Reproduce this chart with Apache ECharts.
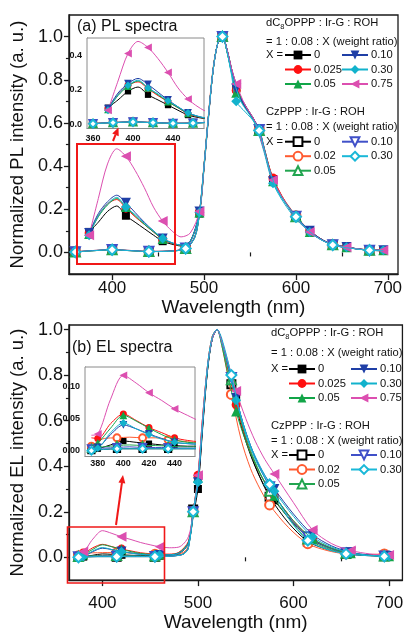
<!DOCTYPE html>
<html><head><meta charset="utf-8">
<script src="https://cdn.jsdelivr.net/npm/echarts@6/dist/echarts.min.js"></script>
<style>html,body{margin:0;padding:0;background:#fff}#c{width:406px;height:633px}</style>
</head><body><div id="c"></div>
<script>
// ---------------- DATA ----------------
const dcLabels = ['0', '0.025', '0.05', '0.10', '0.30', '0.75'];
const czLabels = ['0', '0.02', '0.05', '0.10', '0.30'];

// PL, dC8OPPP host (filled markers)
const plDcX = [375,385,395,405,415,425,435,445,455,465,475,485,495,500,505,510,515,520,525,530,535,545,555,565,575,595,615,635,655,675,695];
const plDc0    = [0.095,0.14,0.19,0.215,0.17,0.14,0.11,0.08,0.052,0.038,0.03,0.05,0.18,0.39,0.63,0.85,0.97,1.0,0.94,0.85,0.76,0.68,0.61,0.49,0.34,0.19,0.10,0.045,0.025,0.013,0.01];
const plDc025  = [0.09,0.17,0.225,0.245,0.205,0.165,0.13,0.095,0.06,0.042,0.032,0.052,0.185,0.40,0.64,0.85,0.97,1.0,0.94,0.84,0.75,0.67,0.61,0.48,0.345,0.19,0.10,0.044,0.024,0.013,0.01];
const plDc05   = [0.085,0.165,0.22,0.25,0.21,0.17,0.13,0.095,0.062,0.043,0.032,0.05,0.185,0.40,0.64,0.85,0.97,1.0,0.93,0.83,0.74,0.67,0.60,0.48,0.33,0.19,0.095,0.043,0.024,0.012,0.01];
const plDc10   = [0.09,0.18,0.235,0.265,0.23,0.185,0.14,0.10,0.065,0.045,0.034,0.052,0.19,0.40,0.64,0.85,0.97,1.0,0.94,0.84,0.76,0.67,0.61,0.48,0.33,0.19,0.10,0.045,0.025,0.013,0.01];
const plDc30   = [0.08,0.17,0.225,0.255,0.21,0.175,0.135,0.10,0.065,0.045,0.034,0.05,0.185,0.40,0.64,0.85,0.97,1.0,0.93,0.82,0.70,0.65,0.60,0.47,0.32,0.18,0.095,0.043,0.024,0.012,0.01];
const plDc75   = [0.08,0.25,0.41,0.48,0.445,0.38,0.30,0.21,0.145,0.10,0.072,0.09,0.19,0.40,0.64,0.85,0.97,1.0,0.94,0.85,0.78,0.68,0.61,0.48,0.335,0.19,0.095,0.043,0.024,0.013,0.01];

// PL, CzPPP host (open markers)
const plCzX = [360,380,400,420,440,460,480,490,495,500,505,510,515,520,525,530,540,550,560,570,580,600,620,640,660,680,695];
const plCz0  = [0.003,0.008,0.012,0.008,0.004,0.006,0.018,0.07,0.18,0.40,0.64,0.85,0.97,1.0,0.93,0.84,0.71,0.64,0.567,0.40,0.29,0.167,0.08,0.035,0.02,0.01,0.008];
const plCz02 = [0.003,0.009,0.013,0.009,0.005,0.006,0.019,0.075,0.185,0.41,0.65,0.86,0.97,1.0,0.94,0.85,0.72,0.645,0.57,0.41,0.295,0.17,0.082,0.036,0.02,0.01,0.008];
const plCz05 = [0.002,0.008,0.012,0.008,0.004,0.005,0.018,0.072,0.18,0.40,0.64,0.85,0.97,1.0,0.93,0.84,0.71,0.64,0.565,0.40,0.29,0.165,0.08,0.035,0.02,0.01,0.008];
const plCz10 = [0.003,0.009,0.013,0.009,0.005,0.006,0.02,0.075,0.185,0.40,0.64,0.85,0.97,1.0,0.94,0.85,0.72,0.645,0.57,0.405,0.29,0.168,0.08,0.036,0.02,0.01,0.008];
const plCz30 = [0.002,0.008,0.012,0.008,0.004,0.005,0.018,0.07,0.18,0.40,0.64,0.85,0.97,1.0,0.93,0.83,0.70,0.635,0.565,0.40,0.285,0.165,0.078,0.034,0.019,0.01,0.008];

// EL, dC8OPPP host (filled markers)
const elDcX = [375,380,390,400,410,420,430,440,450,460,470,480,490,495,500,505,510,515,520,525,530,540,550,560,570,580,600,620,640,660,680,700];
const elDc0   = [0.002,0.003,0.009,0.015,0.013,0.011,0.009,0.008,0.007,0.007,0.008,0.015,0.06,0.18,0.30,0.57,0.82,0.96,1.0,0.95,0.87,0.70,0.52,0.40,0.31,0.25,0.15,0.075,0.038,0.016,0.008,0.005];
const elDc025 = [0.02,0.019,0.042,0.057,0.047,0.036,0.028,0.02,0.016,0.014,0.014,0.022,0.07,0.2,0.36,0.62,0.84,0.97,1.0,0.94,0.85,0.67,0.52,0.41,0.33,0.27,0.16,0.08,0.04,0.018,0.01,0.006];
const elDc05  = [0.008,0.012,0.035,0.055,0.046,0.035,0.025,0.017,0.013,0.012,0.012,0.02,0.065,0.19,0.35,0.6,0.83,0.96,1.0,0.93,0.83,0.64,0.51,0.41,0.33,0.27,0.16,0.082,0.04,0.018,0.009,0.005];
const elDc10  = [0.004,0.005,0.025,0.04,0.034,0.026,0.019,0.013,0.011,0.01,0.011,0.018,0.062,0.19,0.33,0.59,0.83,0.96,1.0,0.95,0.87,0.70,0.55,0.44,0.36,0.30,0.19,0.10,0.05,0.022,0.01,0.006];
const elDc30  = [0.003,0.004,0.028,0.043,0.034,0.025,0.018,0.013,0.011,0.01,0.011,0.018,0.06,0.19,0.33,0.6,0.83,0.96,1.0,0.94,0.86,0.69,0.54,0.43,0.35,0.29,0.18,0.09,0.045,0.02,0.009,0.005];
const elDc75  = [0.024,0.026,0.08,0.117,0.105,0.09,0.078,0.065,0.055,0.046,0.042,0.045,0.09,0.2,0.36,0.62,0.84,0.96,1.0,0.95,0.88,0.73,0.61,0.51,0.43,0.366,0.24,0.12,0.06,0.03,0.015,0.01];

// EL, CzPPP host (open markers)
const elCzX = [375,385,395,405,415,425,435,445,455,465,475,485,490,495,500,505,510,515,520,525,535,545,555,565,575,595,615,635,655,675,695];
const elCz0  = [0.001,0.002,0.003,0.003,0.003,0.003,0.003,0.003,0.003,0.004,0.006,0.015,0.04,0.21,0.31,0.58,0.82,0.96,1.0,0.95,0.76,0.58,0.45,0.35,0.266,0.15,0.07,0.035,0.015,0.008,0.005];
const elCz02 = [0.007,0.019,0.02,0.021,0.02,0.02,0.017,0.015,0.013,0.012,0.013,0.022,0.05,0.2,0.35,0.62,0.84,0.97,1.0,0.93,0.715,0.52,0.39,0.30,0.23,0.13,0.06,0.03,0.015,0.012,0.015];
const elCz05 = [0.004,0.006,0.008,0.009,0.008,0.008,0.007,0.006,0.006,0.006,0.008,0.016,0.045,0.2,0.34,0.6,0.83,0.96,1.0,0.95,0.78,0.6,0.47,0.37,0.29,0.17,0.08,0.04,0.018,0.01,0.006];
const elCz10 = [0.003,0.004,0.005,0.006,0.005,0.005,0.005,0.004,0.004,0.005,0.007,0.015,0.044,0.2,0.33,0.59,0.83,0.96,1.0,0.95,0.79,0.62,0.49,0.39,0.31,0.18,0.09,0.045,0.02,0.01,0.006];
const elCz30 = [0.0,0.002,0.003,0.003,0.003,0.003,0.003,0.003,0.003,0.004,0.006,0.014,0.04,0.2,0.34,0.6,0.84,0.97,1.0,0.96,0.80,0.62,0.49,0.40,0.32,0.17,0.074,0.035,0.015,0.008,0.004];

// wavelengths carrying a marker
const plDcMarks = [375,415,455,495,535,575,615,655,695], plDcMarksInset = [375,395,415,435,455];
const plCzMarks = [360,400,440,480,520,560,600,640,680], plCzMarksInset = [360,380,400,420,440,460];
const elDcMarks = [380,420,460,500,540,580,620,660,700], elDcMarksInset = [380,400,420,440];
const elCzMarks = [375,415,455,495,535,575,615,655,695], elCzMarksInset = [375,395,415,435];

// axis ticks
const mainXMajor = [400,500,600,700], mainXMinor = [450,550,650];
const mainYMajor = [0,0.2,0.4,0.6,0.8,1.0], mainYMinor = [0.1,0.3,0.5,0.7,0.9];
const insetAX = [360,400,440], insetAY = [0,0.2,0.4];
const insetBX = [380,400,420,440], insetBY = [0,0.05,0.10];

// ---------------- STYLES ----------------
const FONT = "'Liberation Sans', Arial, sans-serif";
const LF = 11.2;
const dcStyle = [
  {c:'#000000', s:'rect', r:0, z:9},
  {c:'#ff1010', s:'circle', r:0, z:10},
  {c:'#12a548', s:'triangle', r:0, z:11},
  {c:'#1f3fa6', s:'triangle', r:180, z:11},
  {c:'#12b2cc', s:'diamond', r:0, z:11},
  {c:'#dc4fb0', s:'triangle', r:90, z:11}
];
const czStyle = [
  {c:'#000000', s:'emptyRect', r:0, z:9},
  {c:'#ff5a30', s:'emptyCircle', r:0, z:10},
  {c:'#22a550', s:'emptyTriangle', r:0, z:10},
  {c:'#4050c8', s:'emptyTriangle', r:180, z:10},
  {c:'#1ab8d8', s:'emptyDiamond', r:0, z:12}
];
const symSize = {rect:8, circle:9, triangle:10, diamond:10, emptyRect:8, emptyCircle:9, emptyTriangle:9, emptyDiamond:10};

function buildData(xs, ys, marks) {
  return xs.map((x, i) => marks.indexOf(x) >= 0 ? [x, ys[i]] : {value:[x, ys[i]], symbol:'none'});
}
const series = [];
function addGroup(prefix, labels, styles, xs, ysList, marks, marksInset, axMain, axInset) {
  labels.forEach((lab, i) => {
    const st = styles[i];
    const name = prefix + '_' + lab;
    [[marks, axMain, 1], [marksInset, axInset, 0.78]].forEach(([mk, ax, k]) => {
      series.push({
        type:'line', name, xAxisIndex:ax, yAxisIndex:ax,
        data: buildData(xs, ysList[i], mk),
        symbol: st.s, symbolRotate: st.r, symbolSize: symSize[st.s] * k,
        smooth: 0.3, clip: true, silent: true, z: st.z,
        lineStyle: {width: 1, color: st.c},
        itemStyle: {color: st.c, borderColor: st.c, borderWidth: st.s.indexOf('empty') === 0 ? 1.2 : 0},
        emphasis: {disabled: true}
      });
    });
  });
}
addGroup('pd', dcLabels, dcStyle, plDcX, [plDc0,plDc025,plDc05,plDc10,plDc30,plDc75], plDcMarks, plDcMarksInset, 0, 2);
addGroup('pc', czLabels, czStyle, plCzX, [plCz0,plCz02,plCz05,plCz10,plCz30], plCzMarks, plCzMarksInset, 0, 2);
addGroup('ed', dcLabels, dcStyle, elDcX, [elDc0,elDc025,elDc05,elDc10,elDc30,elDc75], elDcMarks, elDcMarksInset, 3, 5);
addGroup('ec', czLabels, czStyle, elCzX, [elCz0,elCz02,elCz05,elCz10,elCz30], elCzMarks, elCzMarksInset, 3, 5);

// ---------------- AXES ----------------
const AX = '#1a1a1a';
function mainX(grid, min, max, gap, margin) {
  return [
    {gridIndex:grid, type:'value', min, max, position:'bottom',
     axisLine:{show:true, onZero:false, lineStyle:{color:AX, width:1.3}},
     axisTick:{show:true, customValues:mainXMajor, length:6, lineStyle:{color:AX, width:1.3}},
     axisLabel:{customValues:mainXMajor, fontSize:17, color:'#111', margin, fontFamily:FONT},
     splitLine:{show:false},
     name:'Wavelength (nm)', nameLocation:'middle', nameGap:gap,
     nameTextStyle:{fontSize:19, color:'#111', fontFamily:FONT}},
    {gridIndex:grid, type:'value', min, max, position:'bottom',
     axisLine:{show:false}, axisTick:{show:true, customValues:mainXMinor, length:4, lineStyle:{color:AX, width:1.2}},
     axisLabel:{show:false}, splitLine:{show:false}}
  ];
}
function insetX(grid, min, max, vals, margin) {
  return {gridIndex:grid, type:'value', min, max, position:'bottom',
    axisLine:{show:true, onZero:false, lineStyle:{color:'#777', width:1}},
    axisTick:{show:true, inside:true, customValues:vals, length:3, lineStyle:{color:'#444'}},
    axisLabel:{customValues:vals, fontSize:9, fontWeight:'bold', color:'#111', margin, fontFamily:FONT},
    splitLine:{show:false}};
}
function mainY(grid, min, max, title, gap) {
  return [
    {gridIndex:grid, type:'value', min, max, position:'left',
     axisLine:{show:true, onZero:false, lineStyle:{color:AX, width:1.3}},
     axisTick:{show:true, customValues:mainYMajor, length:5, lineStyle:{color:AX, width:1.3}},
     axisLabel:{customValues:mainYMajor, fontSize:18, color:'#111', margin:6, fontFamily:FONT, formatter:v => v.toFixed(1)},
     splitLine:{show:false},
     name:title, nameLocation:'middle', nameGap:gap,
     nameTextStyle:{fontSize:18.5, color:'#111', fontFamily:FONT}},
    {gridIndex:grid, type:'value', min, max, position:'left',
     axisLine:{show:false}, axisTick:{show:true, customValues:mainYMinor, length:3, lineStyle:{color:AX, width:1.2}},
     axisLabel:{show:false}, splitLine:{show:false}}
  ];
}
function insetY(grid, min, max, vals, dec) {
  return {gridIndex:grid, type:'value', min, max, position:'left',
    axisLine:{show:true, onZero:false, lineStyle:{color:'#777', width:1}},
    axisTick:{show:true, inside:true, customValues:vals, length:3, lineStyle:{color:'#444'}},
    axisLabel:{customValues:vals, fontSize:9, fontWeight:'bold', color:'#111', margin:5, fontFamily:FONT, formatter:v => v.toFixed(dec)},
    splitLine:{show:false}};
}

const xAxis = [].concat(mainX(0, 353, 711, 20, 6), [insetX(1, 354, 471, insetAX, 6)], mainX(2, 365, 714, 27, 15), [insetX(3, 370, 456, insetBX, 3)]);
const yAxis = [].concat(mainY(0, -0.1, 1.1, 'Normalized PL intensity (a. u.)', 37), [insetY(1, -0.026, 0.5, insetAY, 1)],
                        mainY(2, -0.1, 1.02, 'Normalized EL intensity (a. u.)', 33), [insetY(3, -0.009, 0.13, insetBY, 2)]);

// ---------------- LEGENDS ----------------
function legendCol(names, left, rowCenter) {
  return {orient:'vertical', left, top: rowCenter - 7.25, padding:0, itemGap:0, itemWidth:26, itemHeight:11,
    selectedMode:false, data:names, formatter: n => n.split('_')[1],
    textStyle:{fontSize:LF, lineHeight:14.5, fontFamily:FONT, color:'#111', padding:[0,0,0,-2]}};
}
const nm = (p, labs) => labs.map(l => p + '_' + l);
const legend = [
  legendCol(nm('pd', dcLabels.slice(0,3)), 284, 55), legendCol(nm('pd', dcLabels.slice(3)), 341, 55),
  legendCol(nm('pc', czLabels.slice(0,3)), 284, 141.7), legendCol(nm('pc', czLabels.slice(3)), 341, 141.7),
  legendCol(nm('ed', dcLabels.slice(0,3)), 288, 369), legendCol(nm('ed', dcLabels.slice(3)), 350, 369),
  legendCol(nm('ec', czLabels.slice(0,3)), 288, 455), legendCol(nm('ec', czLabels.slice(3)), 350, 455)
];

// ---------------- ANNOTATIONS ----------------
function txt(x, y, text, size) {
  return {type:'text', x, y, silent:true, z:50,
    style:{text, fontSize:size, fontFamily:FONT, fill:'#111', verticalAlign:'middle',
      rich:{s:{fontSize:7.5, fontFamily:FONT, fill:'#111', padding:[7,0,0,0]}, n:{fontSize:size, fontFamily:FONT, fill:'#111'}}}};
}
function arrow(x1, y1, x2, y2) {
  const dx = x2 - x1, dy = y2 - y1, L = Math.hypot(dx, dy), ux = dx / L, uy = dy / L, h = 8, w = 3.5;
  const bx = x2 - ux * h, by = y2 - uy * h;
  return [
    {type:'line', silent:true, z:50, shape:{x1, y1, x2:bx, y2:by}, style:{stroke:'#f01818', lineWidth:2}},
    {type:'polygon', silent:true, z:50, shape:{points:[[x2, y2], [bx - uy * w, by + ux * w], [bx + uy * w, by - ux * w]]}, style:{fill:'#f01818'}}
  ];
}
const graphic = [
  txt(77, 27, '(a) PL spectra', 16),
  txt(72, 348, '(b) EL spectra', 16),
  txt(266, 23, '{n|dC}{s|8}{n|OPPP : Ir-G : ROH}', LF),
  txt(266, 41.7, '= 1 : 0.08 : X (weight ratio)', LF),
  txt(266, 55, 'X =', LF),
  txt(266, 111.7, 'CzPPP : Ir-G : ROH', LF),
  txt(266, 126.7, '= 1 : 0.08 : X (weight ratio)', LF),
  txt(266, 141.7, 'X =', LF),
  txt(271, 333, '{n|dC}{s|8}{n|OPPP : Ir-G : ROH}', LF),
  txt(271, 353, '= 1 : 0.08 : X (weight ratio)', LF),
  txt(271, 369, 'X =', LF),
  txt(271, 426, 'CzPPP : Ir-G : ROH', LF),
  txt(271, 441, '= 1 : 0.08 : X (weight ratio)', LF),
  txt(271, 455, 'X =', LF),
  {type:'rect', silent:true, z:50, shape:{x:77, y:144, width:98, height:120}, style:{fill:null, stroke:'#f01818', lineWidth:2}},
  {type:'rect', silent:true, z:50, shape:{x:67.5, y:527, width:97, height:56}, style:{fill:null, stroke:'#f01818', lineWidth:1.6}}
].concat(arrow(113, 141, 118.5, 127.5), arrow(116, 525, 123, 475));

const option = {
  animation:false,
  backgroundColor:'#fff',
  grid:[
    {left:66, top:15, width:332, height:259, show:true, borderColor:AX, borderWidth:1.3, backgroundColor:'transparent'},
    {left:87, top:38, width:117, height:90.5, show:true, borderColor:'#8a8a8a', borderWidth:1, backgroundColor:'#fff', z:3},
    {left:63, top:325, width:341, height:262, show:true, borderColor:AX, borderWidth:1.3, backgroundColor:'transparent'},
    {left:85, top:367, width:110, height:89.5, show:true, borderColor:'#8a8a8a', borderWidth:1, backgroundColor:'#fff', z:3}
  ],
  xAxis, yAxis, legend, series, graphic
};
echarts.init(document.getElementById('c'), null, {renderer:'canvas'}).setOption(option);
</script>
</body></html>
